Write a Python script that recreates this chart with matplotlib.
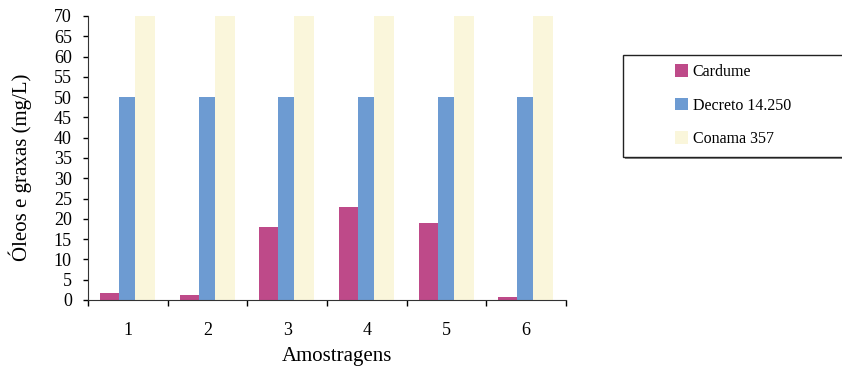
import matplotlib
matplotlib.use("Agg")
import matplotlib.pyplot as plt
from matplotlib.patches import Rectangle
import numpy as np

amostragens = ["1", "2", "3", "4", "5", "6"]
cardume = [1.7, 1.2, 18.1, 22.8, 18.9, 0.8]
decreto = [50, 50, 50, 50, 50, 50]
conama = [70, 70, 70, 70, 70, 70]

plt.rcParams['font.family'] = ['Liberation Serif', 'DejaVu Serif']

W, H = 842, 369
fig = plt.figure(figsize=(W / 100, H / 100), dpi=100)
ax = fig.add_axes([88 / W, 1 - 300 / H, 478 / W, 284 / H])

x = np.arange(len(amostragens))
ax.bar(x - 0.35, cardume, width=0.24, align='edge', color='#BE4A89', label='Cardume')
ax.bar(x - 0.11, decreto, width=0.20, align='edge', color='#6D9BD2', label='Decreto 14.250')
ax.bar(x + 0.09, conama, width=0.25, align='edge', color='#FAF6DB', label='Conama 357')

ax.set_xlim(-0.5, len(amostragens) - 0.5)
ax.set_ylim(0, 70)
ax.set_yticks(np.arange(0, 71, 5))
ax.tick_params(axis='y', direction='out', length=3.6, width=1, labelsize=13, pad=8)

# ticks at the borders between groups, labels centred under each group
ax.set_xticks(np.arange(-0.5, len(amostragens), 1.0))
ax.set_xticklabels([])
ax.set_xticks(x, minor=True)
ax.set_xticklabels(amostragens, minor=True, fontsize=13)
ax.tick_params(axis='x', which='major', direction='out', length=4, width=1)
ax.tick_params(axis='x', which='minor', length=0, pad=16)

ax.spines['top'].set_visible(False)
ax.spines['right'].set_visible(False)
for s in ['left', 'bottom']:
    ax.spines[s].set_color('#333333')

ax.set_ylabel('Óleos e graxas (mg/L)', fontsize=15)
ax.yaxis.set_label_coords(-0.118, 0.468)
ax.set_xlabel('Amostragens', fontsize=15)
ax.xaxis.set_label_coords(0.52, -0.165)

# legend box runs off the right edge, with a grey shadow underneath
bx0, by0, bx1, by1 = 623, 157, 850, 55
fig.patches.append(Rectangle((bx0 / W + 2 / W, 1 - (by0 + 2) / H), (bx1 - bx0) / W, (by0 - by1) / H,
                             transform=fig.transFigure, facecolor='#888888', edgecolor='none', zorder=1))
fig.patches.append(Rectangle((bx0 / W, 1 - by0 / H), (bx1 - bx0) / W, (by0 - by1) / H,
                             transform=fig.transFigure, facecolor='white', edgecolor='#222222',
                             linewidth=1.0, zorder=2))

leg = fig.legend(loc='upper left', bbox_to_anchor=(675 / W, 1 - 64 / H), frameon=False,
                 fontsize=11.5, handlelength=0.8, handleheight=0.85, labelspacing=1.1,
                 borderpad=0, handletextpad=0.3, borderaxespad=0)
leg.set_zorder(3)

fig.savefig('out.png', dpi=100)
